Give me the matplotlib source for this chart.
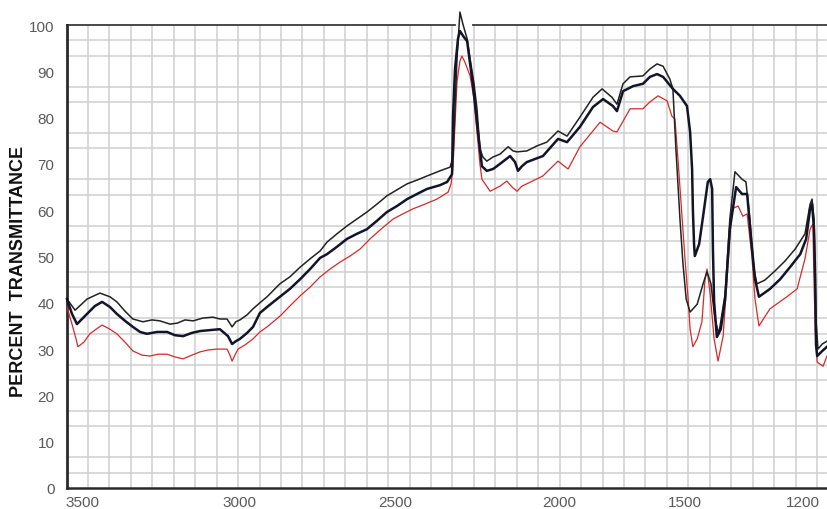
import matplotlib

matplotlib.use("Agg")

import matplotlib.pyplot as plt
import numpy as np
from matplotlib.scale import FuncScale

# Three IR traces: wavenumber (cm-1) and percent transmittance
top_wn = [3548, 3522, 3484, 3443, 3411, 3389, 3363, 3338, 3306, 3277, 3252, 3220,
          3197, 3172, 3146, 3115, 3083, 3061, 3038, 3022, 3010, 2997, 2974, 2955,
          2933, 2910, 2869, 2837, 2804, 2772, 2740, 2718, 2686, 2654, 2622, 2590,
          2558, 2526, 2494, 2463, 2433, 2402, 2363, 2332, 2323, 2317, 2311, 2302,
          2293, 2280, 2271, 2259, 2250, 2241, 2232, 2220, 2201, 2180, 2155, 2140,
          2128, 2098, 2067, 2037, 2003, 1968, 1917, 1865, 1829, 1790, 1770, 1746,
          1718, 1667, 1639, 1611, 1587, 1560, 1548, 1536, 1520, 1508, 1497, 1487,
          1469, 1454, 1444, 1434, 1424, 1414, 1398, 1386, 1373, 1355, 1345, 1335,
          1325, 1317, 1297, 1271, 1246, 1220, 1195, 1182, 1177, 1172, 1167, 1162,
          1151, 1139]
top_t = [40.8, 38.4, 40.8, 42.1, 41.3, 40.2, 38.2, 36.5, 35.9, 36.3, 36.1, 35.4,
         35.6, 36.3, 36.1, 36.7, 36.9, 36.5, 36.5, 34.8, 35.9, 36.3, 37.4, 38.7,
         40.0, 41.3, 44.1, 45.6, 47.7, 49.5, 51.2, 53.1, 54.9, 56.6, 58.1, 59.6,
         61.3, 63.1, 64.4, 65.7, 66.5, 67.4, 68.5, 69.3, 71.5, 81.9, 92.7, 102.8,
         100.2, 97.0, 92.7, 87.3, 81.9, 73.2, 71.5, 70.6, 71.5, 72.1, 73.7, 72.8,
         72.6, 72.8, 73.9, 74.7, 77.1, 76.0, 80.1, 84.4, 86.2, 84.4, 82.9, 87.3,
         88.8, 89.0, 90.5, 91.6, 91.1, 88.3, 86.2, 73.2, 58.1, 48.4, 40.8, 38.0,
         39.7, 44.1, 46.7, 44.1, 36.5, 33.3, 41.9, 58.1, 68.3, 66.7, 66.1, 58.1,
         47.3, 44.1, 44.9, 46.9, 49.0, 51.6, 54.9, 61.3, 62.4, 58.1, 36.5, 30.0,
         31.1, 31.7]

mid_wn = [3548, 3532, 3516, 3484, 3459, 3436, 3411, 3389, 3363, 3338, 3315, 3293,
          3261, 3229, 3204, 3178, 3150, 3124, 3092, 3061, 3035, 3022, 3010, 2997,
          2974, 2955, 2933, 2910, 2869, 2837, 2804, 2772, 2740, 2718, 2686, 2654,
          2622, 2590, 2558, 2526, 2494, 2463, 2433, 2402, 2363, 2341, 2326, 2323,
          2317, 2308, 2302, 2290, 2280, 2271, 2262, 2247, 2235, 2220, 2201, 2180,
          2149, 2134, 2125, 2113, 2098, 2049, 2003, 1968, 1917, 1865, 1825, 1786,
          1770, 1746, 1706, 1667, 1639, 1611, 1587, 1548, 1520, 1495, 1487, 1482,
          1480, 1477, 1475, 1464, 1454, 1442, 1436, 1431, 1429, 1426, 1419, 1409,
          1398, 1386, 1370, 1355, 1342, 1332, 1322, 1312, 1284, 1258, 1233, 1207,
          1192, 1182, 1177, 1172, 1169, 1167, 1164, 1151, 1139]
mid_t = [40.8, 37.6, 35.4, 37.6, 39.3, 40.2, 39.1, 37.6, 36.1, 34.8, 33.7, 33.3,
         33.7, 33.7, 33.0, 32.8, 33.5, 33.9, 34.1, 34.3, 32.8, 31.1, 31.7, 32.2,
         33.5, 34.8, 37.8, 39.1, 41.3, 43.0, 45.1, 47.3, 49.7, 50.5, 52.1, 53.8,
         54.9, 55.9, 57.7, 59.6, 60.9, 62.4, 63.5, 64.6, 65.4, 66.1, 67.8, 80.3,
         90.5, 97.0, 98.7, 97.4, 96.5, 91.6, 86.8, 76.9, 69.5, 68.5, 68.9, 70.0,
         71.7, 70.4, 68.5, 69.5, 70.4, 71.7, 75.4, 74.7, 78.0, 82.3, 84.0, 82.5,
         81.4, 85.7, 86.8, 87.3, 88.8, 89.4, 88.8, 86.2, 84.7, 82.5, 76.9, 68.9,
         60.3, 52.7, 50.1, 52.7, 58.7, 66.1, 66.7, 64.6, 51.6, 40.2, 32.6, 34.3,
         40.8, 55.9, 65.0, 63.5, 63.5, 53.8, 45.1, 41.3, 43.0, 45.1, 47.7, 50.5,
         53.8, 60.3, 61.3, 55.9, 45.1, 31.1, 28.5, 29.6, 30.5]

red_wn = [3548, 3532, 3519, 3513, 3494, 3475, 3455, 3436, 3411, 3389, 3363, 3338,
          3309, 3283, 3258, 3229, 3204, 3178, 3150, 3124, 3099, 3070, 3038, 3029,
          3022, 3013, 3003, 2981, 2955, 2933, 2910, 2869, 2837, 2804, 2772, 2740,
          2708, 2676, 2644, 2612, 2580, 2545, 2506, 2476, 2445, 2409, 2372, 2338,
          2329, 2323, 2317, 2311, 2302, 2296, 2287, 2271, 2259, 2250, 2241, 2235,
          2210, 2180, 2159, 2143, 2128, 2113, 2098, 2049, 2003, 1964, 1917, 1837,
          1786, 1770, 1718, 1667, 1639, 1607, 1571, 1552, 1540, 1528, 1512, 1500,
          1492, 1487, 1480, 1469, 1457, 1449, 1444, 1436, 1426, 1416, 1403, 1391,
          1381, 1365, 1353, 1342, 1330, 1322, 1312, 1284, 1241, 1215, 1195, 1182,
          1175, 1172, 1169, 1164, 1149, 1139]
red_t = [39.1, 35.4, 32.2, 30.5, 31.5, 33.3, 34.3, 35.2, 34.3, 33.3, 31.5, 29.6,
         28.7, 28.5, 28.9, 28.9, 28.3, 27.9, 28.7, 29.4, 29.8, 30.0, 30.0, 28.7,
         27.4, 28.7, 30.0, 30.9, 32.2, 33.7, 34.8, 37.1, 39.3, 41.5, 43.4, 45.6,
         47.3, 48.8, 50.1, 51.6, 53.8, 55.9, 58.1, 59.2, 60.3, 61.3, 62.4, 63.9,
         65.7, 69.5, 78.6, 87.7, 92.2, 93.3, 92.0, 89.0, 84.0, 76.9, 70.0, 66.7,
         64.1, 65.2, 66.3, 65.0, 64.1, 65.2, 65.7, 67.4, 70.6, 68.9, 73.7, 79.0,
         77.1, 76.9, 81.9, 81.9, 83.4, 84.7, 83.6, 80.3, 79.7, 71.1, 58.7, 49.5,
         40.8, 34.3, 30.5, 32.2, 35.9, 45.1, 47.3, 41.9, 32.2, 27.4, 32.8, 47.9,
         60.3, 60.9, 58.7, 59.2, 50.1, 40.8, 35.0, 38.7, 41.3, 43.0, 49.5, 55.9,
         57.0, 44.5, 34.3, 27.2, 26.3, 28.5]

x_ticks = [3500, 3000, 2500, 2000, 1500, 1200]
y_ticks = list(range(0, 101, 10))
x_range = (3548, 1139)

# The printed wavenumber scale is not uniform: knots tie wavenumbers to
# distance along the chart (0 = left edge, 760 = right edge).
KNOT_WN = np.array([4000, 3548, 3500, 3000, 2500, 2000, 1500, 1200, 1139, 400], float)
KNOT_POS = np.array([-141, 0, 15, 172, 328, 492, 618, 736, 760, 1050], float)


def wn_forward(w):
    return -np.interp(-np.asarray(w, float), -KNOT_WN, KNOT_POS)


def wn_inverse(f):
    return -np.interp(-np.asarray(f, float), KNOT_POS, -KNOT_WN)


GRID_POS = 21 + 21.44 * np.arange(35)
GRID_WN = wn_inverse(-GRID_POS)

TICK_FONT = ["Liberation Sans Narrow", "DejaVu Sans Condensed", "Liberation Sans"]

fig = plt.figure(figsize=(8.27, 5.10), dpi=100)
fig.patch.set_facecolor("white")
ax = fig.add_axes([0.081, 0.0412, 0.919, 0.9078])

ax.set_xscale(FuncScale(ax.xaxis, (wn_forward, wn_inverse)))
ax.set_xlim(*x_range)
ax.set_ylim(0, 100)

ax.set_xticks(x_ticks)
ax.set_xticklabels([str(v) for v in x_ticks])
ax.set_xticks(GRID_WN, minor=True)
ax.set_yticks(y_ticks)
ax.set_yticks(np.linspace(0, 100, 31), minor=True)

ax.grid(False, which="major")
ax.grid(True, which="minor", color="#d0d0d0", linewidth=1.1)
ax.set_axisbelow(True)
ax.tick_params(which="both", length=0)
ax.tick_params(axis="y", pad=9, labelsize=11, labelcolor="#5a5a5a")
ax.tick_params(axis="x", pad=5, labelsize=11, labelcolor="#5a5a5a")
for lbl in ax.get_xticklabels() + ax.get_yticklabels():
    lbl.set_family(TICK_FONT)

for side in ("top", "right"):
    ax.spines[side].set_visible(False)
ax.spines["left"].set_color("#2a2a2a")
ax.spines["left"].set_linewidth(2.0)
ax.spines["bottom"].set_color("#2a2a2a")
ax.spines["bottom"].set_linewidth(1.8)

# top frame line, broken where the C-O peak pokes through
edge = ax.get_xaxis_transform()
for x0, x1 in ((x_range[0], 2317), (2262, x_range[1])):
    ax.plot([x0, x1], [1, 1], transform=edge, color="#3a3a3a", lw=1.3,
            clip_on=False, zorder=1.5)

ax.plot(red_wn, red_t, color="#d42a2a", lw=0.9, clip_on=False, zorder=3)
ax.plot(top_wn, top_t, color="#222222", lw=1.1, clip_on=False, zorder=4)
ax.plot(mid_wn, mid_t, color="#121428", lw=1.8, clip_on=False, zorder=5)

fig.text(0.022, 0.467, "PERCENT  TRANSMITTANCE", rotation=90, ha="center",
         va="center", fontsize=13, fontweight="bold", family="Liberation Sans",
         color="#111111")

fig.savefig("out.png", dpi=100, facecolor="white")
